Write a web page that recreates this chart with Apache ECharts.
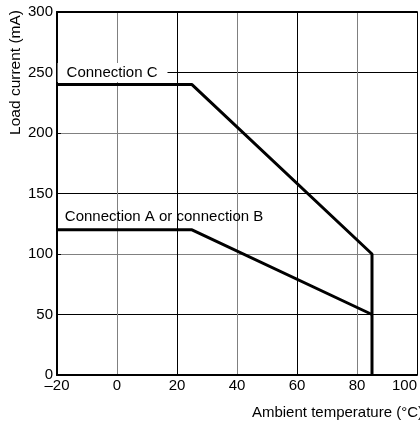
<!DOCTYPE html>
<html>
<head>
<meta charset="utf-8">
<script src="https://cdn.jsdelivr.net/npm/echarts@6/dist/echarts.min.js"></script>
<style>
html,body{margin:0;padding:0;background:#fff;}
#chart{width:420px;height:423px;}
</style>
</head>
<body>
<div id="chart"></div>
<script>
// Data
var tempC = [-20, 25, 85, 85];
var currentC = [240, 240, 100, 0];
var tempAB = [-20, 25, 85];
var currentAB = [120, 120, 50];
var xTicks = [-20, 0, 20, 40, 60, 80, 100];
var yTicks = [0, 50, 100, 150, 200, 250, 300];
var labelC = {text: 'Connection C', x: -16.8, y: 250};
var labelAB = {text: 'Connection A or connection B', x: -17.4, y: 131};
var xTitle = 'Ambient temperature (°C)';
var yTitle = 'Load current (mA)';

var FONT = '"Liberation Sans", Arial, sans-serif';
var chart = echarts.init(document.getElementById('chart'));

function pairs(xs, ys){ return xs.map(function(x,i){ return [x, ys[i]]; }); }

chart.setOption({
  animation: false,
  backgroundColor: '#fff',
  textStyle: {fontFamily: FONT},
  grid: {left: 57, right: 0, top: 12, bottom: 48, containLabel: false},
  xAxis: [{
    type: 'value', min: xTicks[0], max: xTicks[xTicks.length-1], interval: 20,
    axisLine: {show: true, onZero: false, lineStyle: {color: '#000', width: 2}},
    axisTick: {show: false},
    axisLabel: {color: '#000', fontSize: 15, fontFamily: FONT, margin: 3, alignMaxLabel: 'right',
      formatter: function(v){ return v < 0 ? '\u2013' + Math.abs(v) : String(v); }},
    splitLine: {show: true, lineStyle: {color: ['#000', '#808080'], width: 1}}
  }, {
    type: 'value', position: 'top', min: xTicks[0], max: xTicks[xTicks.length-1], interval: 20,
    axisLine: {show: true, onZero: false, lineStyle: {color: '#000', width: 2}},
    axisTick: {show: false}, axisLabel: {show: false}, splitLine: {show: false}
  }],
  yAxis: {
    type: 'value', min: yTicks[0], max: yTicks[yTicks.length-1], interval: 50,
    axisLine: {show: true, onZero: false, lineStyle: {color: '#000', width: 2}},
    axisTick: {show: true, inside: true, length: 4, lineStyle: {color: '#000', width: 1}},
    axisLabel: {color: '#000', fontSize: 15, fontFamily: FONT, margin: 4},
    splitLine: {show: true, lineStyle: {color: ['#808080', '#000'], width: 1}}
  },
  series: [{
    type: 'line', data: pairs(tempC, currentC), symbol: 'none',
    lineStyle: {color: '#000', width: 3}, z: 5,
    markPoint: {
      symbol: 'rect', symbolSize: 0,
      data: [{coord: [labelC.x, labelC.y], value: labelC.text}],
      label: {show: true, position: 'right', distance: 0, formatter: labelC.text,
        color: '#000', fontSize: 15, fontFamily: FONT,
        backgroundColor: '#fff', padding: [2, 10, 2, 9], offset: [-9, 0]}
    }
  }, {
    type: 'line', data: pairs(tempAB, currentAB), symbol: 'none',
    lineStyle: {color: '#000', width: 3}, z: 5,
    markPoint: {
      symbol: 'rect', symbolSize: 0,
      data: [{coord: [labelAB.x, labelAB.y], value: labelAB.text}],
      label: {show: true, position: 'right', distance: 0, formatter: labelAB.text,
        color: '#000', fontSize: 15, fontFamily: FONT}
    }
  }],
  graphic: [{
    type: 'text', right: -3, top: 405,
    style: {text: xTitle, fill: '#000', font: '15px ' + FONT}
  }, {
    type: 'text', left: 8, top: 10, rotation: Math.PI/2, originX: 0, originY: 0,
    style: {text: yTitle, fill: '#000', font: '15.5px ' + FONT}
  }]
});
</script>
</body>
</html>
